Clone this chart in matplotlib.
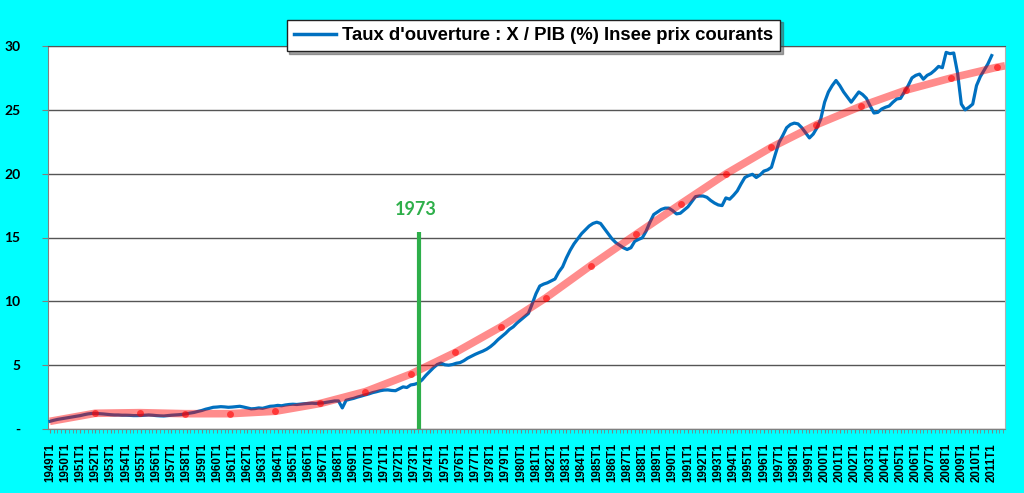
import numpy as np
import matplotlib
matplotlib.use('Agg')
import matplotlib.pyplot as plt
from matplotlib.lines import Line2D

# Taux d'ouverture, quarterly values 1949T1 .. 2011T1
taux = [
    0.60, 0.68, 0.75, 0.80,      # 1949
    0.85, 0.90, 0.95, 1.00,      # 1950
    1.05, 1.12, 1.18, 1.22,      # 1951
    1.22, 1.20, 1.18, 1.15,      # 1952
    1.12, 1.10, 1.10, 1.08,      # 1953
    1.08, 1.07, 1.05, 1.05,      # 1954
    1.06, 1.08, 1.10, 1.08,      # 1955
    1.05, 1.03, 1.02, 1.05,      # 1956
    1.08, 1.10, 1.12, 1.15,      # 1957
    1.20, 1.25, 1.30, 1.38,      # 1958
    1.45, 1.55, 1.62, 1.70,      # 1959
    1.72, 1.75, 1.73, 1.70,      # 1960
    1.72, 1.75, 1.78, 1.72,      # 1961
    1.65, 1.58, 1.60, 1.65,      # 1962
    1.62, 1.70, 1.78, 1.80,      # 1963
    1.85, 1.82, 1.88, 1.92,      # 1964
    1.94, 1.92, 1.95, 1.98,      # 1965
    2.00, 2.02, 2.00, 2.03,      # 1966
    2.05, 2.10, 2.15, 2.20,      # 1967
    2.20, 1.65, 2.25, 2.33,      # 1968
    2.40, 2.50, 2.58, 2.67,      # 1969
    2.75, 2.85, 2.92, 3.00,      # 1970
    3.05, 3.06, 3.02, 3.00,      # 1971
    3.15, 3.30, 3.25, 3.45,      # 1972
    3.50, 3.60, 3.85, 4.20,      # 1973
    4.50, 4.80, 5.05, 5.16,      # 1974
    5.03, 5.00, 5.05, 5.15,      # 1975
    5.20, 5.35, 5.55, 5.70,      # 1976
    5.85, 5.98, 6.10, 6.25,      # 1977
    6.45, 6.70, 7.00, 7.25,      # 1978
    7.50, 7.80, 8.00, 8.30,      # 1979
    8.55, 8.80, 9.05, 9.80,      # 1980
    10.60, 11.20, 11.35, 11.45,  # 1981
    11.60, 11.75, 12.30, 12.70,  # 1982
    13.40, 14.00, 14.50, 14.90,  # 1983
    15.30, 15.60, 15.90, 16.10,  # 1984
    16.20, 16.10, 15.70, 15.30,  # 1985
    14.90, 14.60, 14.40, 14.20,  # 1986
    14.06, 14.20, 14.70, 14.85,  # 1987
    14.98, 15.50, 16.20, 16.80,  # 1988
    17.00, 17.20, 17.30, 17.30,  # 1989
    17.10, 16.85, 16.90, 17.15,  # 1990
    17.40, 17.80, 18.20, 18.25,  # 1991
    18.25, 18.15, 17.90, 17.70,  # 1992
    17.55, 17.50, 18.10, 18.00,  # 1993
    18.30, 18.65, 19.20, 19.70,  # 1994
    19.85, 19.95, 19.70, 19.90,  # 1995
    20.20, 20.30, 20.50, 21.50,  # 1996
    22.45, 23.00, 23.60, 23.85,  # 1997
    23.96, 23.90, 23.60, 23.20,  # 1998
    22.80, 23.10, 23.60, 24.30,  # 1999
    25.60, 26.40, 26.90, 27.30,  # 2000
    26.90, 26.40, 26.00, 25.60,  # 2001
    26.00, 26.40, 26.20, 25.90,  # 2002
    25.30, 24.75, 24.80, 25.06,  # 2003
    25.20, 25.30, 25.60, 25.85,  # 2004
    25.90, 26.40, 26.90, 27.50,  # 2005
    27.70, 27.80, 27.40, 27.70,  # 2006
    27.85, 28.10, 28.40, 28.30,  # 2007
    29.50, 29.40, 29.45, 27.90,  # 2008
    25.45, 25.00, 25.20, 25.45,  # 2009
    26.90, 27.60, 28.10, 28.60,  # 2010
    29.25,                       # 2011
]

# categories on the axis: 1949T1 .. 2011T4
years = list(range(1949, 2012))
quarters = [f"{y}T{q}" for y in years for q in range(1, 5)]

# red trend curve (position in quarters, value)
trend_pos = [0, 11.9, 23.7, 35.6, 47.5, 59.4, 71.2, 83.1, 95.0, 106.8, 118.7,
             130.6, 142.4, 154.3, 166.2, 178.1, 189.9, 201.8, 213.7, 225.5,
             237.4, 249.3, 251.5]
trend_val = [0.60, 1.23, 1.28, 1.20, 1.20, 1.39, 2.00, 2.93, 4.30, 6.00, 7.99,
             10.27, 12.80, 15.24, 17.65, 20.00, 22.05, 23.83, 25.30, 26.55,
             27.50, 28.33, 28.45]

choc_label = "1973"
choc_pos = quarters.index("1973T2") + 0.3
choc_height = 15.4

legend_text = "Taux d'ouverture : X / PIB (%) Insee prix courants"

BLUE = '#0070C0'
GREEN = '#2EAF4A'
CYAN = '#00FFFF'

fig = plt.figure(figsize=(10.24, 4.93), dpi=100, facecolor=CYAN)
ax = fig.add_axes([48 / 1024, 1 - 429 / 493, (1005 - 48) / 1024, (429 - 46) / 493])
ax.set_facecolor('white')

x = np.arange(len(taux))
ax.plot(x, taux, color=BLUE, lw=2.3, zorder=3, solid_joinstyle='round')
ax.plot(trend_pos, trend_val, color='red', alpha=0.45, lw=5.5, zorder=4,
        solid_capstyle='butt')
ax.plot(trend_pos[1:-1], trend_val[1:-1], 'o', color='red', alpha=0.6, ms=5,
        mec='none', zorder=4)

ax.plot([choc_pos, choc_pos], [0, choc_height], color=GREEN, lw=3, zorder=5,
        solid_capstyle='butt')
ax.text(choc_pos - 1, 17.2, choc_label, color=GREEN, fontsize=13, fontweight='bold',
        family=['Lato', 'DejaVu Sans'], ha='center', va='center')

ax.set_xlim(-0.5, len(quarters) - 0.5)
ax.set_ylim(0, 30)

ax.set_yticks(range(0, 31, 5))
ax.set_yticklabels(['-'] + [str(v) for v in range(5, 31, 5)],
                   fontsize=10, fontweight='bold', family=['Lato', 'DejaVu Sans'])
ax.tick_params(axis='y', length=4, color='#808080', pad=16)

ax.set_xticks(range(0, len(quarters), 4))
ax.set_xticklabels(quarters[::4], rotation=90, fontsize=8.3, fontweight='bold',
                   family=['Liberation Sans', 'DejaVu Sans'])
ax.set_xticks(range(len(quarters)), minor=True)
ax.tick_params(axis='x', which='both', length=3, color='#808080', pad=7)

ax.yaxis.grid(True, color='#555555', lw=1.0)
ax.set_axisbelow(True)

for side in ['left', 'bottom']:
    ax.spines[side].set_color('#808080')
ax.spines['top'].set_color('#555555')
ax.spines['right'].set_color('#b0b0b0')

handle = Line2D([], [], color=BLUE, lw=2.5)
leg = fig.legend([handle], [legend_text], loc='center',
                 bbox_to_anchor=(533.5 / 1024, 1 - 35.5 / 493),
                 prop={'family': ['Liberation Sans Narrow', 'Liberation Sans'],
                       'weight': 'bold', 'size': 13.3},
                 frameon=True, fancybox=False, shadow=True, handlelength=2.3,
                 handletextpad=0.3, borderpad=0.4)
leg.get_frame().set_edgecolor('#222222')
leg.get_frame().set_linewidth(1.0)

fig.savefig('out.png', dpi=100, facecolor=CYAN)
